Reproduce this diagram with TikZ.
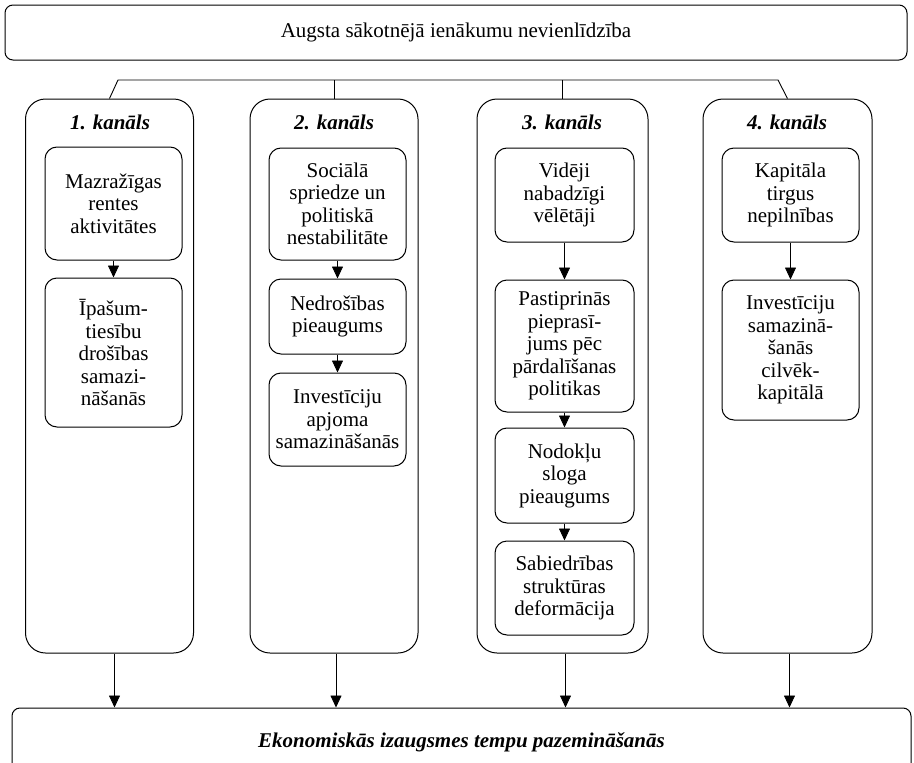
\documentclass[tikz,border=0pt]{standalone}
\usepackage{fontspec}
\setmainfont{Liberation Serif}
\usetikzlibrary{arrows.meta}
\begin{document}
\begin{tikzpicture}[x=1pt,y=-1pt,
  txt/.style={font=\fontsize{21}{22.5}\selectfont},
  chanbox/.style={draw,line width=1pt,rounded corners=20pt,minimum width=168pt,minimum height=554pt,inner sep=0pt},
  inbox/.style={draw,line width=1pt,rounded corners=12pt,minimum width=137pt,inner sep=0pt,align=center,txt},
  bigbox/.style={draw,line width=1pt,rounded corners=8pt,inner sep=0pt,txt},
  ttl/.style={txt,font=\fontsize{21}{22.5}\selectfont\bfseries\itshape},
  arr/.style={line width=0.8pt,-{Triangle[width=11pt,length=12pt]}},
  conn/.style={line width=0.9pt}]
\useasboundingbox (0,0) rectangle (914,763);
\clip (0,0) rectangle (914,763);
% top and bottom
\node[bigbox,minimum width=902pt,minimum height=55pt] (top) at (456,32.5) {Augsta sākotnējā ienākumu nevienlīdzība};
\node[bigbox,minimum width=899pt,minimum height=68pt,font=\fontsize{21}{22.5}\selectfont\bfseries\itshape] (bot) at (461.5,742) {Ekonomiskās izaugsmes tempu pazemināšanās};
% channels
\node[chanbox] (ch1) at (109.5,376) {};
\node[chanbox] (ch2) at (334,376) {};
\node[chanbox,minimum width=171pt] (ch3) at (562.5,376) {};
\node[chanbox,minimum width=169pt] (ch4) at (787.5,376) {};
\node[ttl] (t1) at (110,122) {1. kanāls};
\node[ttl] (t2) at (334,122) {2. kanāls};
\node[ttl] (t3) at (562,122) {3. kanāls};
\node[ttl] (t4) at (787,122) {4. kanāls};
% bus
\coordinate (busL) at (118,80);
\coordinate (busR) at (778,80);
\draw[conn] (ch1.north) -- (busL) -- (busR) -- (ch4.north);
\draw[conn] (ch2.north) -- (ch2.north |- busL);
\draw[conn] (ch3.north) -- (ch3.north |- busL);
% channel 1
\node[inbox,minimum height=113pt] (a1) at (113.5,203.5) {Mazražīgas\\rentes\\aktivitātes};
\node[inbox,minimum height=149pt] (b1) at (113.5,352.5) {Īpašum-\\tiesību\\drošības\\samazi-\\nāšanās};
% channel 2
\node[inbox,minimum height=112pt] (a2) at (337.5,204) {Sociālā\\spriedze un\\politiskā\\nestabilitāte};
\node[inbox,minimum height=75pt] (b2) at (337.5,316.5) {Nedrošības\\pieaugums};
\node[inbox,minimum height=93pt] (c2) at (337.5,419.5) {Investīciju\\apjoma\\samazināšanās};
% channel 3
\node[inbox,minimum width=139pt,minimum height=94pt] (a3) at (564.5,195) {Vidēji\\nabadzīgi\\vēlētāji};
\node[inbox,minimum width=139pt,minimum height=132pt] (b3) at (564.5,346) {Pastiprinās\\pieprasī-\\jums pēc\\pārdalīšanas\\politikas};
\node[inbox,minimum width=139pt,minimum height=95pt] (c3) at (564.5,475.5) {Nodokļu\\sloga\\pieaugums};
\node[inbox,minimum width=139pt,minimum height=94pt] (d3) at (564.5,588) {Sabiedrības\\struktūras\\deformācija};
% channel 4
\node[inbox,minimum height=94pt] (a4) at (790.5,195) {Kapitāla\\tirgus\\nepilnības};
\node[inbox,minimum height=140pt] (b4) at (790.5,350) {Investīciju\\samazinā-\\šanās\\cilvēk-\\kapitālā};
% inner arrows
\draw[arr] (a1) -- (b1);
\draw[arr] (a2) -- (b2);
\draw[arr] (b2) -- (c2);
\draw[arr] (a3) -- (b3);
\draw[arr] (b3) -- (c3);
\draw[arr] (c3) -- (d3);
\draw[arr] (a4) -- (b4);
% outgoing arrows
\draw[arr] ([xshift=5pt]ch1.south) -- ([xshift=5pt]ch1.south |- bot.north);
\draw[arr] ([xshift=2pt]ch2.south) -- ([xshift=2pt]ch2.south |- bot.north);
\draw[arr] ([xshift=3pt]ch3.south) -- ([xshift=3pt]ch3.south |- bot.north);
\draw[arr] ([xshift=2pt]ch4.south) -- ([xshift=2pt]ch4.south |- bot.north);
\end{tikzpicture}
\end{document}
